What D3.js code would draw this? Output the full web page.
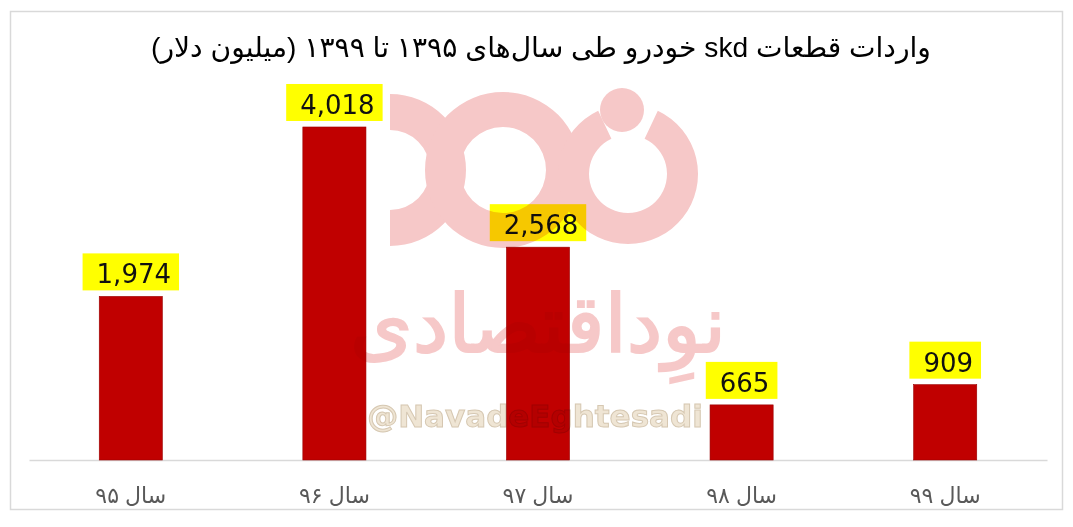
<!DOCTYPE html>
<html><head><meta charset="utf-8">
<script src="https://cdn.jsdelivr.net/npm/d3@7"></script>
<style>
html,body{margin:0;padding:0;background:#fff;}
svg{display:block;}
</style></head>
<body>
<svg id="chart" width="1073" height="527"></svg>
<script>
const categories = ["سال ۹۵", "سال ۹۶", "سال ۹۷", "سال ۹۸", "سال ۹۹"];
const values = [1974, 4018, 2568, 665, 909];
const title = "واردات قطعات skd خودرو طی سال‌های ۱۳۹۵ تا ۱۳۹۹ (میلیون دلار)";
const watermarkText = "نوِداقتصادی";
const handleText = "@NavadeEghtesadi";

const svg = d3.select("#chart");
svg.append("rect").attr("width",1073).attr("height",527).attr("fill","#fff");

// frame
svg.append("rect").attr("x",10.5).attr("y",11.5).attr("width",1052).attr("height",498)
  .attr("fill","none").attr("stroke","#d9d9d9").attr("stroke-width",1.5);

const x = d3.scaleBand().domain(categories).range([29,1047]).paddingInner(0.69).paddingOuter(0.345);
const y = d3.scaleLinear().domain([0,5000]).range([460,45.6]);
const fmt = d3.format(",");

// title
const t = svg.append("text").attr("x",541).attr("y",57).attr("text-anchor","middle")
  .attr("direction","rtl").attr("font-family","'Liberation Sans', 'DejaVu Sans', sans-serif")
  .attr("font-size",28).attr("fill","#000").text(title);
{
  const w = t.node().getComputedTextLength();
  if (w > 0) t.attr("font-size", Math.min(30, 28*780/w));
}

// axis baseline
const axis = d3.axisBottom(x).tickSize(0).tickFormat("");
const ax = svg.append("g").attr("transform","translate(0,460)").call(axis);
ax.select(".domain").attr("stroke","#d9d9d9").attr("stroke-width",1.5);

// bars
svg.append("g").selectAll("rect").data(values).join("rect")
  .attr("x",(d,i)=>x(categories[i])).attr("width",x.bandwidth())
  .attr("y",d=>y(d)).attr("height",d=>y(0)-y(d))
  .attr("fill","#c00000").attr("stroke","#9a0000").attr("stroke-width",0.6);

// value labels
const lg = svg.append("g");
values.forEach((v,i)=>{
  const cx = x(categories[i]) + x.bandwidth()/2;
  const g = lg.append("g");
  const box = g.append("rect");
  const tx = g.append("text").attr("x",cx+3).attr("y",y(v)-13).attr("text-anchor","middle")
    .attr("font-family","'DejaVu Sans', Verdana, sans-serif").attr("font-size",26).attr("fill","#111")
    .text(fmt(v));
  const w = tx.node().getComputedTextLength();
  box.attr("x",cx-(w+22)/2).attr("width",w+22).attr("y",y(v)-43).attr("height",37).attr("fill","#ffff00");
});

// category labels
svg.append("g").selectAll("text").data(categories).join("text")
  .attr("x",d=>x(d)+x.bandwidth()/2).attr("y",503).attr("text-anchor","middle")
  .attr("direction","rtl").attr("font-family","'Liberation Sans', 'DejaVu Sans', sans-serif")
  .attr("font-size",22).attr("fill","#595959").text(d=>d);

// watermark (multiply blend)
const wm = svg.append("g").style("mix-blend-mode","multiply").attr("fill","#f6c8c8");
const arc = d3.arc();
wm.append("path").attr("transform","translate(390,170)")
  .attr("d",arc({innerRadius:40,outerRadius:76,startAngle:0,endAngle:Math.PI}));
wm.append("path").attr("transform","translate(503,170)")
  .attr("d",arc({innerRadius:43,outerRadius:78,startAngle:0,endAngle:Math.PI*2}));
wm.append("path").attr("transform","translate(628,174)")
  .attr("d",arc({innerRadius:39,outerRadius:70,startAngle:Math.PI*0.14,endAngle:Math.PI*1.86}));
wm.append("circle").attr("cx",622).attr("cy",110).attr("r",22);
wm.append("text").attr("x",538).attr("y",352).attr("text-anchor","middle").attr("direction","rtl")
  .attr("font-family","'DejaVu Sans', sans-serif").attr("font-size",80).attr("stroke","#f6c8c8").attr("stroke-width",2)
  .text(watermarkText);
svg.append("text").attr("x",535).attr("y",427).attr("text-anchor","middle")
  .attr("font-family","'DejaVu Sans', sans-serif").attr("font-weight","bold").attr("font-size",31)
  .attr("fill","#efe5d4").attr("stroke","#d6c8b2").attr("stroke-width",1)
  .style("mix-blend-mode","multiply").text(handleText);
</script>
</body></html>
